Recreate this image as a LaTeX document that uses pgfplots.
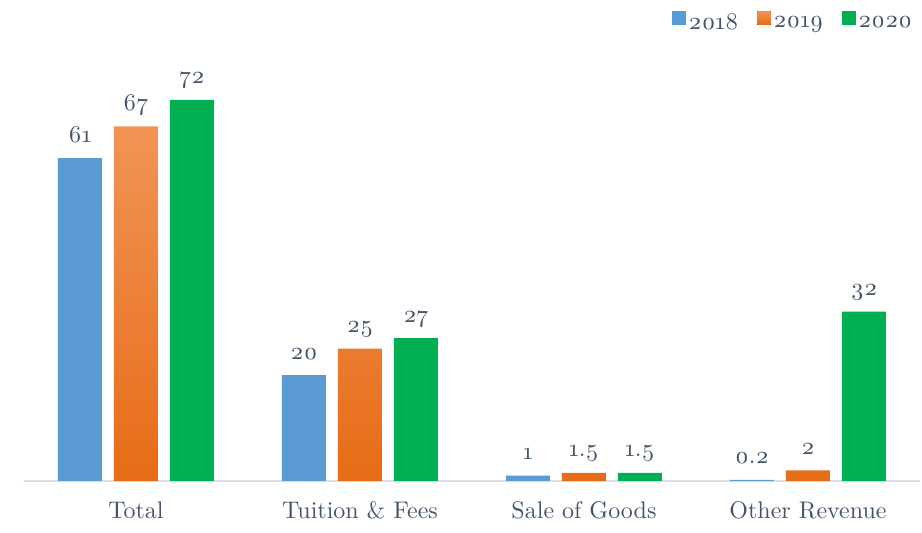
\documentclass[border=0pt]{standalone}
\usepackage{fontspec}
\setmainfont{lmroman10-regular.otf}[Numbers=OldStyle]
\usepackage{pgfplots}
\pgfplotsset{compat=1.18}
\definecolor{c18}{HTML}{5B9BD5}
\definecolor{c19top}{HTML}{F29456}
\definecolor{c19bot}{HTML}{E66C17}
\definecolor{c20}{HTML}{00B050}
\definecolor{txt}{HTML}{44546A}
\definecolor{axisc}{HTML}{D9DEE4}
\begin{document}
\begin{tikzpicture}
\begin{axis}[
  x=168pt, y=3.9675pt,
  xmin=-0.5, xmax=3.5, ymin=0, ymax=90.9,
  axis x line*=bottom, axis y line=none,
  x axis line style={draw=axisc, line width=1pt, -},
  xtick={0,1,2,3},
  xticklabels={Total, Tuition \& Fees, Sale of Goods, Other Revenue},
  major tick length=0pt,
  ytick=\empty,
  xticklabel style={font=\fontsize{18}{21}\selectfont, text=txt, anchor=base, yshift=-28.5pt},
  ybar=9pt, bar width=33pt,
  /pgf/number format/assume math mode=true,
  nodes near coords,
  every node near coord/.append style={font=\fontsize{18}{21}\selectfont, text=txt, anchor=base, yshift=12pt},
  clip=false,
  legend columns=3,
  legend style={draw=none, fill=none, at={(axis cs:3.478,86.6)}, anchor=east, inner sep=0pt,
    font=\fontsize{18}{21}\selectfont, text=txt, /tikz/every even column/.append style={column sep=12pt}},
  legend image code/.code={\fill[#1] (0pt,-1.5pt) rectangle (10pt,8.5pt);},
]
\addplot[draw=none, fill=c18] coordinates {(0,61) (1,20) (2,1) (3,0.2)};
\addplot[draw=none, top color=c19top, bottom color=c19bot] coordinates {(0,67) (1,25) (2,1.5) (3,2)};
\addplot[draw=none, fill=c20] coordinates {(0,72) (1,27) (2,1.5) (3,32)};
\legend{2018,2019,2020}
\coordinate (bl) at (axis cs:-0.607,-9.83);
\coordinate (tr) at (axis cs:3.509,90.9);
\end{axis}
\pgfresetboundingbox
\path[use as bounding box] (bl) rectangle (tr);
\end{tikzpicture}
\end{document}
